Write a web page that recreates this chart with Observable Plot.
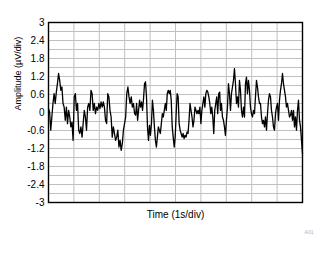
<!DOCTYPE html>
<html>
<head>
<meta charset="utf-8">
<script src="https://cdn.jsdelivr.net/npm/d3@7"></script>
<script src="https://cdn.jsdelivr.net/npm/@observablehq/plot@0.6"></script>
<style>
  html, body { margin: 0; padding: 0; background: #fff; }
</style>
</head>
<body>
<div id="chart"></div>
<script>
// Noise waveform, µV in three time segments
const noiseSeg1 = [0.13,0.02,-0.59,-0.15,0.30,0.63,0.30,0.68,0.96,1.30,1.07,0.74,0.85,0.30,0.18,-0.26,0.18,-0.37,0.07,-0.15,-0.48,-0.32,-0.93,0.52,0.63,0.07,0.30,-0.59,-0.70,-0.48,-0.82,-0.37,0.07,-0.15,-0.59,0.18,0.30,0.07,0.74,0.63,0.07,0.30,-0.04,0.18,0.07,0.30,0.13,0.35,0.18,0.35,0.18,-0.26,-0.37,0.63,0.52,0.07,-0.15,-0.82,-0.48,-0.70,-0.93,-0.82,-0.59,-1.15,-0.93,-1.26,-1.04,-0.59,-0.37,-0.15,0.63,0.85,0.52,0.30,0.52,0.18,0.30,-0.04];
const noiseSeg2 = [-0.09,0.30,-0.26,0.07,0.41,0.18,0.35,0.07,0.46,0.96,1.02,0.52,-0.48,-0.93,-0.43,-0.76,-0.37,0.41,0.07,-0.48,-0.93,-1.15,-0.82,-0.48,-0.59,-0.70,-0.37,-0.04,-0.15,0.07,0.30,0.07,0.63,0.74,0.63,0.74,0.41,-0.48,-0.82,-1.15,-0.82,-0.04,0.63,0.52,-0.37,-0.59,-0.70,-0.82,-0.70,-0.87,-0.76,-0.82,-0.65,-0.70,-0.26,0.30,0.07,-0.15,-0.48,-0.26,0.18,0.07,-0.04,0.07,-0.04,0.18,-0.37,0.07,0.30,0.52,0.18,0.63,0.74,0.68,0.52,0.30,-0.04,0.18,-0.15,-0.70,0.07,0.30,0.52,-0.04,0.63,0.68];
const noiseSeg3 = [0.07,0.30,-0.15,-0.26,-0.48,-0.76,-0.26,0.18,0.96,0.63,0.07,0.63,0.85,1.07,1.46,0.96,0.30,0.52,0.18,1.07,0.74,0.07,-0.15,0.18,-0.15,0.96,1.18,0.63,1.07,0.74,0.18,-0.04,-0.15,0.07,-0.04,0.52,1.07,0.85,0.52,0.30,0.30,-0.15,-0.37,-0.26,-0.48,-0.15,-0.59,-0.04,0.41,0.63,0.52,0.07,-0.15,-0.48,-0.59,-0.04,0.18,0.30,-0.26,0.41,0.74,0.96,1.30,0.96,0.74,0.52,0.18,0.30,0.07,-0.15,-0.09,0.07,-0.26,0.07,-0.48,-0.15,-0.59,0.07,0.41,-0.26,-0.48,-0.93,-1.37];
// time span (s) covered by each segment
const segStart = [0, 3.43, 6.77];
const segEnd = [3.39, 6.74, 10];

const yTickValues = [-3,-2.4,-1.8,-1.2,-0.6,0,0.6,1.2,1.8,2.4,3];
const yGridValues = [-2.7,-2.4,-2.1,-1.8,-1.5,-1.2,-0.9,-0.6,-0.3,0,0.3,0.6,0.9,1.2,1.5,1.8,2.1,2.4,2.7];
const xGridValues = [1,2,3,4,5,6,7,8,9];
const xLabel = "Time (1s/div)";
const yLabel = "Amplitude (µV/div)";
const stamp = "A01";

const segs = [noiseSeg1, noiseSeg2, noiseSeg3];
const data = [];
segs.forEach((s, k) => {
  s.forEach((v, i) => {
    data.push({t: segStart[k] + (segEnd[k] - segStart[k]) * i / (s.length - 1), v});
  });
});

const chart = Plot.plot({
  width: 335,
  height: 254,
  marginLeft: 48,
  marginRight: 33,
  marginTop: 22,
  marginBottom: 52,
  style: {fontFamily: "'Liberation Sans', Arial, sans-serif", fontSize: "10px", background: "#fff", color: "#000"},
  x: {domain: [0, 10], axis: null},
  y: {domain: [-3, 3], axis: null},
  marks: [
    Plot.ruleY(yGridValues, {stroke: "#c0c0c0", strokeWidth: 1}),
    Plot.ruleX(xGridValues, {stroke: "#c0c0c0", strokeWidth: 1}),
    Plot.line(data, {x: "t", y: "v", stroke: "#000", strokeWidth: 1.3}),
    Plot.frame({stroke: "#000", strokeWidth: 1.4}),
    Plot.axisY({ticks: yTickValues, tickSize: 0, tickPadding: 4, label: null,
      tickFormat: d => String(+d.toFixed(1)), fontSize: 10}),
    Plot.text([xLabel], {frameAnchor: "bottom", lineAnchor: "top", dy: 8, fontSize: 10, fill: "#000"}),
    Plot.text([yLabel], {frameAnchor: "left", rotate: -90, lineAnchor: "bottom", dx: -28, dy: -2, fontSize: 9, fill: "#000"}),
    Plot.text([stamp], {frameAnchor: "bottom-right", dx: 11, dy: 30, lineAnchor: "middle", fontSize: 5, fill: "#b0b0b0"})
  ]
});
document.getElementById("chart").appendChild(chart);
</script>
</body>
</html>
